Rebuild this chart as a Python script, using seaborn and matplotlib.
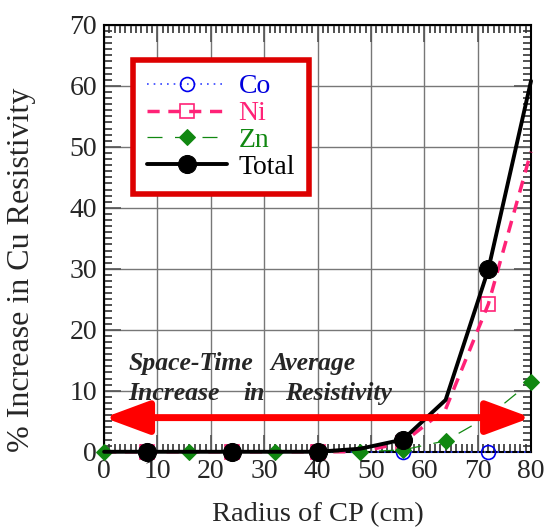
import pandas as pd
import matplotlib
matplotlib.use("Agg")
import matplotlib.pyplot as plt
import seaborn as sns
from matplotlib.ticker import MultipleLocator

# === DATA ===
radius = [0, 8, 16, 24, 32, 40, 48, 56, 64, 72, 80]
co = [0, 0, 0, 0, 0, 0, 0, 0, 0, 0, 0]
ni = [0, 0, 0, 0, 0, 0, 0, 1.5, 7.0, 24.2, 49.2]
zn = [0, 0, 0, 0, 0, 0, 0, 0.3, 1.8, 5.8, 11.5]
total = [0, 0, 0, 0, 0, 0, 0.5, 2.0, 8.5, 29.9, 60.8]
avg_increase = 5.6

sns.set_style("ticks")
plt.rcParams["font.family"] = ["Liberation Serif", "DejaVu Serif"]

df = pd.DataFrame({"radius": radius, "Co": co, "Ni": ni, "Zn": zn, "Total": total})

fig, ax = plt.subplots(figsize=(5.48, 5.29), dpi=100)
fig.subplots_adjust(left=0.19, right=0.969, top=0.953, bottom=0.146)

odd = slice(1, None, 2)
sns.lineplot(data=df, x="radius", y="Co", ax=ax, color="#3344ff", lw=1.2,
             linestyle=(0, (1, 3)), marker="o", markevery=odd, ms=10,
             mfc="none", mec="#0000ee", mew=1.2, label="Co", clip_on=False, zorder=3)
sns.lineplot(data=df, x="radius", y="Ni", ax=ax, color="#ff2277", lw=2.5,
             linestyle=(0, (3.5, 2.5)), marker="s", markevery=odd, ms=10,
             mfc="none", mec="#ff2277", mew=1.2, label="Ni", clip_on=False, zorder=4)
sns.lineplot(data=df, x="radius", y="Zn", ax=ax, color="#118811", lw=0.9,
             linestyle=(0, (12, 10)), marker="D", ms=8, mfc="#118811",
             mec="#118811", label="Zn", clip_on=False, zorder=5)
sns.lineplot(data=df, x="radius", y="Total", ax=ax, color="black", lw=2.8,
             marker="o", markevery=odd, ms=13, mfc="black", mec="black",
             label="Total", clip_on=False, zorder=6)

ax.annotate("", xy=(80, avg_increase), xytext=(0, avg_increase),
            arrowprops=dict(arrowstyle="<|-|>,head_length=1.35,head_width=0.5",
                            color="#ff0000", lw=5, mutation_scale=20,
                            shrinkA=0, shrinkB=0), zorder=7)

# annotation words, spaced out like the original
note_kw = dict(fontsize=18.5, fontweight="bold", fontstyle="italic",
               va="baseline", ha="left")
ax.text(4.5, 13.35, "Space-Time", **note_kw)
ax.text(31.1, 13.35, "Average", **note_kw)
ax.text(4.5, 8.47, "Increase", **note_kw)
ax.text(26.0, 8.47, "in", **note_kw)
ax.text(33.9, 8.47, "Resistivity", **note_kw)

ax.set_xlim(0, 80)
ax.set_ylim(0, 70)
ax.xaxis.set_major_locator(MultipleLocator(10))
ax.xaxis.set_minor_locator(MultipleLocator(1))
ax.yaxis.set_major_locator(MultipleLocator(10))
ax.yaxis.set_minor_locator(MultipleLocator(1))
ax.tick_params(which="both", direction="in", top=True, right=True, labelsize=20, pad=5)
ax.tick_params(which="major", length=12, width=1.2, color="#555555")
ax.tick_params(which="minor", length=6, width=1.2, color="#333333")
ax.grid(True, which="major", color="#777777", lw=1)
for s in ax.spines.values():
    s.set_linewidth(1.5)
    s.set_color("black")

ax.set_xlabel("Radius of CP (cm)", fontsize=20.5, labelpad=13)
ax.set_ylabel("% Increase in Cu Resistivity", fontsize=23)
ax.yaxis.set_label_coords(-0.16, 0.426)

leg = ax.legend(loc="upper left", bbox_to_anchor=(0.035, 0.95), fontsize=20,
                handlelength=2.9, fancybox=False, framealpha=1,
                borderpad=0.5, labelspacing=0.05, handletextpad=0.4)
leg.get_frame().set_edgecolor("#dd0000")
leg.get_frame().set_linewidth(4)
for txt, c in zip(leg.get_texts(), ["#0000dd", "#ff2277", "#118811", "black"]):
    txt.set_color(c)

fig.savefig("out.png", dpi=100)
